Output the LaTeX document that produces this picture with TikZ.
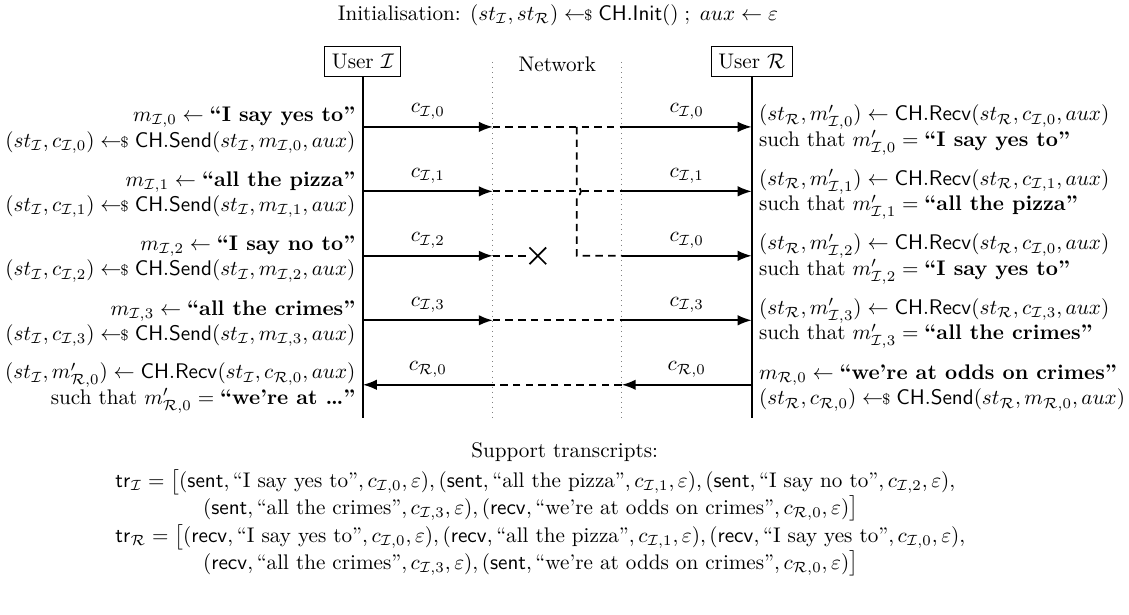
\documentclass[tikz,border=0pt]{standalone}
\usepackage{amsmath}
\usepackage{tikz}
\usetikzlibrary{arrows.meta, positioning, shapes.misc}

\newcommand{\sampleget}{\mathrel{\leftarrow\!\!{\scriptstyle\$}}}
\newcommand{\chinit}{\mathsf{CH.Init}}
\newcommand{\chsend}{\mathsf{CH.Send}}
\newcommand{\chrecv}{\mathsf{CH.Recv}}
\newcommand{\uI}{\mathcal{I}}
\newcommand{\uR}{\mathcal{R}}
\newcommand{\bmsg}[1]{\text{\textbf{``#1''}}}
\newcommand{\pmsg}[1]{\text{``#1''}}

\tikzset{
    userbox/.style={draw, minimum height=0.5cm},
    lifeline/.style={thick},
    netline/.style={gray, dotted},
    msg/.style={thick, -Latex},
    wire/.style={thick, dash pattern=on 3.5pt off 2.5pt},
    clabel/.style={above},
    lefttxt/.style={anchor=east, align=right, yshift=-1.5pt},
    righttxt/.style={anchor=west, align=left, yshift=-1.5pt},
    trline/.style={anchor=west, inner ysep=1pt},
}

\begin{document}
\begin{tikzpicture}
    \useasboundingbox (0,0) rectangle (18.77,-10.22);

    \node (init) at (9.275,-0.249) {Initialisation: $(st_{\uI}, st_{\uR}) \sampleget \chinit() \;;\; aux \leftarrow \varepsilon$};

    \node[userbox] (userI) at (6.033,-1.022) {User $\uI$};
    \node[userbox] (userR) at (12.497,-1.022) {User $\uR$};
    \node (net) at (9.265,-1.064) {Network};

    \coordinate (endI) at (6.033,-6.946);
    \coordinate (endR) at (12.497,-6.946);
    \coordinate (netLtop) at (8.193,-1.03);
    \coordinate (netLbot) at (8.193,-6.946);
    \coordinate (netRtop) at (10.337,-1.03);
    \coordinate (netRbot) at (10.337,-6.946);

    \draw[lifeline] (userI) -- (endI);
    \draw[lifeline] (userR) -- (endR);
    \draw[netline] (netLtop) -- (netLbot);
    \draw[netline] (netRtop) -- (netRbot);

    % message rows
    \foreach \k/\y in {0/-2.110, 1/-3.181, 2/-4.253, 3/-5.325, 4/-6.397} {
        \coordinate (aI\k) at (6.033,\y);
        \coordinate (aL\k) at (8.193,\y);
        \coordinate (aR\k) at (10.337,\y);
        \coordinate (aU\k) at (12.497,\y);
    }

    \draw[msg] (aI0) -- node[clabel] {$c_{\uI,0}$} (aL0);
    \draw[wire] (aL0) -- (aR0);
    \draw[msg] (aR0) -- node[clabel] {$c_{\uI,0}$} (aU0);

    \draw[msg] (aI1) -- node[clabel] {$c_{\uI,1}$} (aL1);
    \draw[wire] (aL1) -- (aR1);
    \draw[msg] (aR1) -- node[clabel] {$c_{\uI,1}$} (aU1);

    \draw[msg] (aI2) -- node[clabel] {$c_{\uI,2}$} (aL2);
    \node[cross out, draw, thick, minimum size=0.25cm, inner sep=0pt] (lost) at (8.941,-4.253) {};
    \draw[wire] (aL2) -- (lost);
    \draw[msg] (aR2) -- node[clabel] {$c_{\uI,0}$} (aU2);

    % replayed ciphertext
    \coordinate (drop) at (9.588,-2.110);
    \draw[wire] (drop) -- ++(0,-0.999) arc[start angle=90, end angle=-90, radius=0.072] |- (aR2);

    \draw[msg] (aI3) -- node[clabel] {$c_{\uI,3}$} (aL3);
    \draw[wire] (aL3) -- (aR3);
    \draw[msg] (aR3) -- node[clabel] {$c_{\uI,3}$} (aU3);

    \draw[msg] (aU4) -- node[clabel] {$c_{\uR,0}$} (aR4);
    \draw[wire] (aR4) -- (aL4);
    \draw[msg] (aL4) -- node[clabel] {$c_{\uR,0}$} (aI4);

    % sender side
    \node[lefttxt] (sI0) at (aI0) {$m_{\uI,0} \leftarrow \bmsg{I say yes to}$\\ $(st_{\uI}, c_{\uI,0}) \sampleget \chsend(st_{\uI}, m_{\uI,0}, aux)$};
    \node[lefttxt] (sI1) at (aI1) {$m_{\uI,1} \leftarrow \bmsg{all the pizza}$\\ $(st_{\uI}, c_{\uI,1}) \sampleget \chsend(st_{\uI}, m_{\uI,1}, aux)$};
    \node[lefttxt] (sI2) at (aI2) {$m_{\uI,2} \leftarrow \bmsg{I say no to}$\\ $(st_{\uI}, c_{\uI,2}) \sampleget \chsend(st_{\uI}, m_{\uI,2}, aux)$};
    \node[lefttxt] (sI3) at (aI3) {$m_{\uI,3} \leftarrow \bmsg{all the crimes}$\\ $(st_{\uI}, c_{\uI,3}) \sampleget \chsend(st_{\uI}, m_{\uI,3}, aux)$};
    \node[lefttxt] (rI4) at (aI4) {$(st_{\uI}, m'_{\uR,0}) \leftarrow \chrecv(st_{\uI}, c_{\uR,0}, aux)$\\ such that $m'_{\uR,0} = \bmsg{we're at \ldots}$};

    % receiver side
    \node[righttxt] (rR0) at (aU0) {$(st_{\uR}, m'_{\uI,0}) \leftarrow \chrecv(st_{\uR}, c_{\uI,0}, aux)$\\ such that $m'_{\uI,0} = \bmsg{I say yes to}$};
    \node[righttxt] (rR1) at (aU1) {$(st_{\uR}, m'_{\uI,1}) \leftarrow \chrecv(st_{\uR}, c_{\uI,1}, aux)$\\ such that $m'_{\uI,1} = \bmsg{all the pizza}$};
    \node[righttxt] (rR2) at (aU2) {$(st_{\uR}, m'_{\uI,2}) \leftarrow \chrecv(st_{\uR}, c_{\uI,0}, aux)$\\ such that $m'_{\uI,2} = \bmsg{I say yes to}$};
    \node[righttxt] (rR3) at (aU3) {$(st_{\uR}, m'_{\uI,3}) \leftarrow \chrecv(st_{\uR}, c_{\uI,3}, aux)$\\ such that $m'_{\uI,3} = \bmsg{all the crimes}$};
    \node[righttxt] (sR4) at (aU4) {$m_{\uR,0} \leftarrow \bmsg{we're at odds on crimes}$\\ $(st_{\uR}, c_{\uR,0}) \sampleget \chsend(st_{\uR}, m_{\uR,0}, aux)$};

    % transcripts
    \node (supp) at (9.388,-7.51) {Support transcripts:};
    \node[trline] (trI1) at (1.796,-8.013) {$\mathsf{tr}_{\uI} = \big[(\mathsf{sent}, \pmsg{I say yes to}, c_{\uI,0}, \varepsilon), (\mathsf{sent}, \pmsg{all the pizza}, c_{\uI,1}, \varepsilon), (\mathsf{sent}, \pmsg{I say no to}, c_{\uI,2}, \varepsilon),$};
    \node[trline] (trI2) at (3.252,-8.459) {$(\mathsf{sent}, \pmsg{all the crimes}, c_{\uI,3}, \varepsilon), (\mathsf{recv}, \pmsg{we're at odds on crimes}, c_{\uR,0}, \varepsilon)\big]$};
    \node[trline] (trR1) at (1.796,-8.926) {$\mathsf{tr}_{\uR} = \big[(\mathsf{recv}, \pmsg{I say yes to}, c_{\uI,0}, \varepsilon), (\mathsf{recv}, \pmsg{all the pizza}, c_{\uI,1}, \varepsilon), (\mathsf{recv}, \pmsg{I say yes to}, c_{\uI,0}, \varepsilon),$};
    \node[trline] (trR2) at (3.252,-9.373) {$(\mathsf{recv}, \pmsg{all the crimes}, c_{\uI,3}, \varepsilon), (\mathsf{sent}, \pmsg{we're at odds on crimes}, c_{\uR,0}, \varepsilon)\big]$};
\end{tikzpicture}
\end{document}
